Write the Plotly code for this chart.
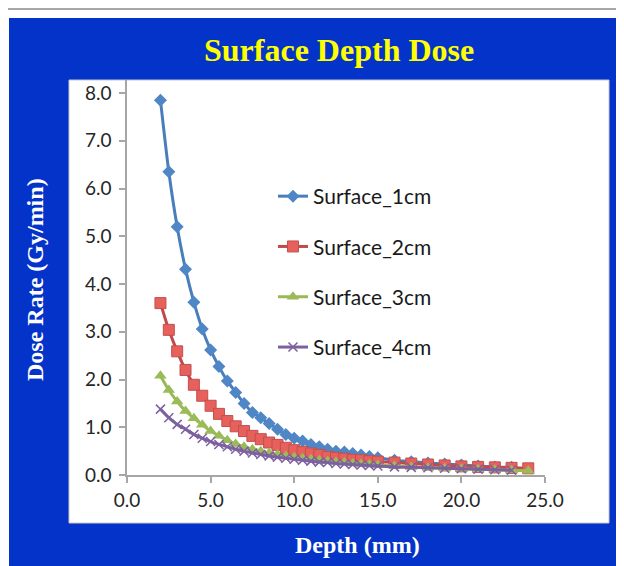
import plotly.graph_objects as go

depth_a = [2.0, 2.5, 3.0, 3.5, 4.0, 4.5, 5.0, 5.5, 6.0, 6.5, 7.0, 7.5, 8.0, 8.5, 9.0, 9.5,
           10.0, 10.5, 11.0, 11.5, 12.0, 12.5, 13.0, 13.5, 14.0, 14.5, 15.0,
           16.0, 17.0, 18.0, 19.0, 20.0, 21.0, 22.0, 23.0]
depth_b = depth_a + [24.0]

surface_1cm = [7.85, 6.35, 5.20, 4.31, 3.62, 3.06, 2.62, 2.27, 1.97, 1.73, 1.50, 1.31, 1.20, 1.08, 0.96, 0.85,
               0.77, 0.71, 0.64, 0.59, 0.54, 0.50, 0.48, 0.45, 0.42, 0.39, 0.36,
               0.31, 0.28, 0.25, 0.23, 0.21, 0.19, 0.17, 0.16]
surface_2cm = [3.60, 3.04, 2.59, 2.20, 1.89, 1.66, 1.45, 1.28, 1.13, 1.02, 0.92, 0.82, 0.75, 0.68, 0.63, 0.57,
               0.52, 0.48, 0.45, 0.42, 0.38, 0.36, 0.34, 0.32, 0.31, 0.29, 0.28,
               0.26, 0.24, 0.22, 0.20, 0.18, 0.17, 0.16, 0.15, 0.14]
surface_3cm = [2.08, 1.78, 1.54, 1.34, 1.19, 1.05, 0.92, 0.82, 0.73, 0.65, 0.59, 0.54, 0.50, 0.46, 0.43, 0.40,
               0.37, 0.35, 0.33, 0.31, 0.29, 0.27, 0.26, 0.24, 0.23, 0.22, 0.21,
               0.19, 0.17, 0.15, 0.14, 0.13, 0.12, 0.11, 0.10, 0.09]
surface_4cm = [1.38, 1.20, 1.06, 0.96, 0.85, 0.77, 0.70, 0.64, 0.59, 0.54, 0.50, 0.46, 0.43, 0.40, 0.37, 0.35,
               0.33, 0.31, 0.29, 0.27, 0.26, 0.24, 0.23, 0.22, 0.21, 0.20, 0.19,
               0.17, 0.16, 0.15, 0.14, 0.13, 0.12, 0.11, 0.10]

x_ticks = [0, 5, 10, 15, 20, 25]
y_ticks = [0, 1, 2, 3, 4, 5, 6, 7, 8]

W, H = 624, 566
OFF = 8  # page body margin offset
L, R, T, B = 119, 87, 72, 99
PW, PH = W - L - R, H - T - B


def px(x):  # page x -> paper coordinate
    return (x - OFF - L) / PW


def py(y):  # page y -> paper coordinate
    return (H - B - (y - OFF)) / PH


fig = go.Figure()

series = [
    ("Surface_1cm", depth_a, surface_1cm, "#4A7EBB", dict(symbol="diamond", size=10, color="#4F86C6")),
    ("Surface_2cm", depth_b, surface_2cm, "#BE4B48", dict(symbol="square", size=11, color="#E8605C",
                                                           line=dict(color="#C0504D", width=1))),
    ("Surface_3cm", depth_b, surface_3cm, "#98B954", dict(symbol="triangle-up", size=11, color="#9BBB59")),
    ("Surface_4cm", depth_a, surface_4cm, "#7D60A0", dict(symbol="x-thin", size=9,
                                                           line=dict(color="#7D60A0", width=1.5))),
]
for i, (name, xs, ys, lc, mk) in enumerate(series):
    fig.add_trace(go.Scatter(x=xs, y=ys, name=name, mode="lines+markers",
                             line=dict(color=lc, width=3, shape="spline", smoothing=0.6),
                             marker=mk, legendgroup=f"g{i}"))

shapes = [
    dict(type="line", xref="paper", yref="paper", x0=px(0), x1=px(W + 10), y0=py(9), y1=py(9),
         line=dict(color="#8a8a8a", width=1.5), layer="below"),
    dict(type="rect", xref="paper", yref="paper", x0=px(9), x1=px(W + 20), y0=py(18), y1=py(H + 20),
         fillcolor="#0433C9", line=dict(width=0), layer="below"),
    dict(type="rect", xref="paper", yref="paper", x0=px(69), x1=px(609), y0=py(80), y1=py(523),
         fillcolor="white", line=dict(color="#c8c8c8", width=1), layer="below"),
]

annotations = [
    dict(text="<b>Surface Depth Dose</b>", xref="paper", yref="paper", x=px(339), y=py(50),
         xanchor="center", yanchor="middle", showarrow=False,
         font=dict(family="Liberation Serif", size=32, color="#FFFF00")),
    dict(text="<b>Depth (mm)</b>", xref="paper", yref="paper", x=px(357), y=py(545),
         xanchor="center", yanchor="middle", showarrow=False,
         font=dict(family="Liberation Serif", size=24, color="white")),
    dict(text="<b>Dose Rate (Gy/min)</b>", xref="paper", yref="paper", x=px(35), y=py(280),
         xanchor="center", yanchor="middle", showarrow=False, textangle=-90,
         font=dict(family="Liberation Serif", size=24, color="white")),
]

fig.update_layout(
    width=W, height=H,
    margin=dict(l=L, r=R, t=T, b=B, pad=0),
    paper_bgcolor="white", plot_bgcolor="white",
    shapes=shapes, annotations=annotations,
    showlegend=True,
    legend=dict(x=px(273), y=py(176), xanchor="left", yanchor="top",
                bgcolor="rgba(0,0,0,0)", tracegroupgap=20,
                font=dict(family="Lato", size=21, color="#1a1a1a")),
    font=dict(family="Lato"),
)
fig.update_xaxes(range=[0, 25], tickvals=x_ticks, ticktext=[f"{v:.1f}" for v in x_ticks],
                 showgrid=False, zeroline=False, showline=True, linecolor="#a6a6a6", linewidth=1.5,
                 ticks="outside", ticklen=6, tickcolor="#a6a6a6", tickwidth=1.5,
                 tickfont=dict(family="Lato", size=19, color="#262626"), ticklabelstandoff=1)
fig.update_yaxes(range=[0, PH / 47.75], tickvals=y_ticks, ticktext=[f"{v:.1f}" for v in y_ticks],
                 showgrid=False, zeroline=False, showline=True, linecolor="#a6a6a6", linewidth=1.5,
                 ticks="outside", ticklen=6, tickcolor="#a6a6a6", tickwidth=1.5,
                 tickfont=dict(family="Lato", size=19, color="#262626"), ticklabelstandoff=4)

fig.write_html("out.html")
